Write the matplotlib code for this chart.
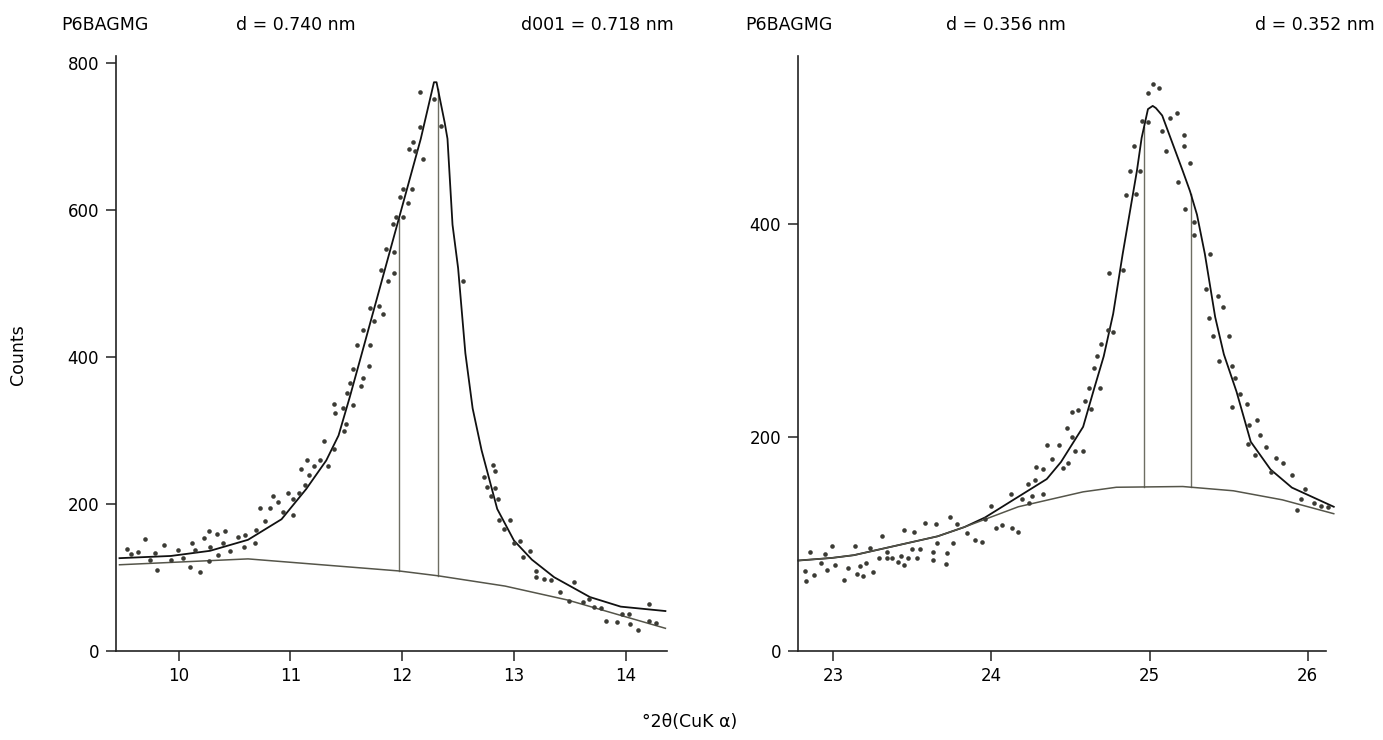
import numpy as np
import matplotlib
matplotlib.use("Agg")
import matplotlib.pyplot as plt

plt.rcParams['font.family'] = ['DejaVu Sans']

# ---------------- Left panel data (°2θ, counts) ----------------
left_x = [9.54, 9.57, 9.64, 9.70, 9.74, 9.79, 9.81, 9.87, 9.93, 9.99, 10.04, 10.10, 10.12, 10.15,
          10.19, 10.23, 10.27, 10.27, 10.28, 10.34, 10.35, 10.40, 10.41, 10.46, 10.53, 10.58, 10.59,
          10.68, 10.69, 10.73, 10.77, 10.82, 10.84, 10.89, 10.93, 10.98, 11.02, 11.02, 11.08, 11.09,
          11.13, 11.15, 11.17, 11.21, 11.26, 11.30, 11.34, 11.39, 11.39, 11.40, 11.47, 11.48, 11.50,
          11.51, 11.53, 11.56, 11.56, 11.597, 11.63, 11.645, 11.65, 11.70, 11.71, 11.716, 11.75,
          11.79, 11.81, 11.83, 11.853, 11.875, 11.92, 11.93, 11.93, 11.94, 11.978, 12.006, 12.01,
          12.054, 12.06, 12.086, 12.10, 12.115, 12.157, 12.163, 12.185, 12.284, 12.348, 12.54,
          12.73, 12.76, 12.79, 12.81, 12.83, 12.83, 12.86, 12.87, 12.91, 12.96, 13.00, 13.05, 13.08,
          13.14, 13.20, 13.20, 13.27, 13.33, 13.41, 13.49, 13.54, 13.62, 13.67, 13.72, 13.78, 13.82,
          13.92, 13.97, 14.03, 14.04, 14.11, 14.21, 14.21, 14.27]
left_y = [139, 131, 134, 152, 124, 133, 110, 144, 124, 137, 126, 114, 147, 137,
          107, 154, 163, 122, 141, 159, 130, 146, 163, 136, 155, 141, 157,
          146, 164, 194, 176, 194, 211, 202, 189, 215, 206, 185, 215, 247,
          226, 259, 239, 251, 260, 286, 251, 275, 336, 324, 330, 299, 309,
          351, 365, 335, 384, 416, 360, 436, 371, 388, 416, 467, 449,
          469, 518, 459, 547, 503, 581, 543, 514, 591, 618, 629, 591,
          609, 683, 629, 692, 681, 713, 761, 669, 751, 715, 503,
          236, 223, 210, 253, 245, 221, 207, 178, 166, 178, 146, 149, 128,
          136, 109, 100, 98, 96, 80, 68, 94, 66, 70, 60, 58, 41,
          39, 50, 50, 36, 28, 63, 41, 38]

left_fit_x = [9.47, 9.93, 10.28, 10.62, 10.92, 11.14, 11.32, 11.43, 11.53, 11.63, 12.166, 12.284,
              12.307, 12.38, 12.405, 12.45, 12.50, 12.565, 12.63, 12.71, 12.85, 13.00, 13.16, 13.36,
              13.68, 13.955, 14.355]
left_fit_y = [126, 129, 136, 151, 179, 220, 259, 293, 345, 400, 697, 774,
              774, 719, 697, 580, 521, 405, 330, 273, 193, 150, 124, 100,
              73, 60, 54]

left_bg_x = [9.47, 10.62, 11.97, 12.32, 12.92, 13.48, 14.355]
left_bg_y = [117, 125, 108.6, 102, 88, 69, 30.5]

left_peaks = [11.968, 12.32]

# ---------------- Right panel data ----------------
right_x = [22.824, 22.826, 22.853, 22.88, 22.92, 22.95, 22.96, 22.99, 23.01, 23.07, 23.09, 23.14,
           23.15, 23.17, 23.19, 23.21, 23.23, 23.25, 23.29, 23.31, 23.34, 23.34, 23.37, 23.41,
           23.43, 23.45, 23.45, 23.47, 23.50, 23.51, 23.53, 23.55, 23.58, 23.63, 23.63, 23.65,
           23.655, 23.71, 23.72, 23.74, 23.76, 23.78, 23.845, 23.895, 23.94, 23.96, 24.00, 24.03,
           24.07, 24.125, 24.13, 24.17, 24.195, 24.23, 24.24, 24.256, 24.276, 24.28, 24.326, 24.326,
           24.35, 24.38, 24.425, 24.45, 24.477, 24.486, 24.507, 24.507, 24.53, 24.547, 24.577, 24.59,
           24.617, 24.63, 24.65, 24.67, 24.687, 24.69, 24.737, 24.746, 24.77, 24.83, 24.85, 24.875,
           24.904, 24.915, 24.94, 24.95, 24.99, 24.99, 25.022, 25.058, 25.078, 25.107, 25.13, 25.173,
           25.178, 25.216, 25.218, 25.227, 25.254, 25.28, 25.28, 25.354, 25.374, 25.38, 25.40, 25.43,
           25.44, 25.462, 25.50, 25.52, 25.52, 25.54, 25.57, 25.616, 25.62, 25.63, 25.67, 25.68,
           25.70, 25.735, 25.767, 25.80, 25.846, 25.90, 25.93, 25.96, 25.984, 26.04, 26.086, 26.13]
right_y = [75, 65, 93, 71, 82, 91, 76, 98, 80, 66, 78, 98,
           72, 79, 70, 82, 96, 74, 87, 108, 93, 87, 87, 83,
           89, 113, 80, 87, 95, 111, 87, 95, 120, 93, 85, 119,
           101, 81, 92, 125, 101, 119, 110, 104, 102, 124, 136, 115,
           118, 147, 115, 111, 142, 156, 139, 145, 160, 172, 147, 170,
           193, 180, 193, 171, 209, 176, 200, 224, 187, 226, 187, 234,
           246, 227, 265, 276, 246, 288, 301, 354, 299, 357, 427, 450,
           473, 428, 450, 497, 523, 496, 532, 528, 487, 469, 500, 504,
           440, 484, 473, 414, 457, 402, 390, 339, 312, 372, 295, 333,
           272, 322, 295, 267, 229, 256, 241, 231, 194, 212, 184, 216,
           202, 191, 168, 181, 176, 165, 132, 142, 152, 139, 136, 135]

right_fit_x = [22.78, 22.99, 23.13, 23.66, 23.83, 23.96, 24.35, 24.44, 24.58, 24.65, 24.71, 24.77,
               24.83, 24.92, 24.95, 24.99, 25.02, 25.04, 25.08, 25.12, 25.21, 25.256, 25.30, 25.35,
               25.415, 25.47, 25.55, 25.64, 25.765, 25.90, 26.165]
right_fit_y = [84.6, 87, 89.6, 107.3, 116, 125, 161, 177, 210, 246, 276, 316,
               372, 450, 481, 508, 511, 509, 502, 486, 450, 431, 409, 372,
               313, 278, 243, 196, 170, 153, 135]

right_bg_x = [22.78, 22.99, 23.13, 23.66, 23.83, 24.17, 24.58, 24.79, 25.21, 25.53, 25.84, 26.165]
right_bg_y = [84.6, 87, 89.6, 107.3, 116, 135, 149, 153.3, 154, 150, 141.5, 128.5]

right_peaks = [24.965, 25.262]

left_titles = ["P6BAGMG", "d = 0.740 nm", "d001 = 0.718 nm"]
right_titles = ["P6BAGMG", "d = 0.356 nm", "d = 0.352 nm"]

# ---------------- Figure ----------------
W, H = 1383, 740
fig = plt.figure(figsize=(W / 100, H / 100), dpi=100)

def px_axes(x0, x1, ytop, ybot):
    return fig.add_axes([x0 / W, 1 - ybot / H, (x1 - x0) / W, (ybot - ytop) / H])

axL = px_axes(115.7, 667.3, 55.8, 650.7)
axR = px_axes(797.7, 1325.7, 55.8, 650.7)

dot_c = '#3b3b35'
fit_c = '#111111'
bg_c = '#55554a'
vl_c = '#6e6e62'

def draw(ax, sx, sy, fx, fy, bx, by, peaks, xlim, ylim, yticks, xticks):
    ax.plot(sx, sy, 'o', ms=3.3, color=dot_c, mec='none', clip_on=False, zorder=3)
    ax.plot(fx, fy, '-', lw=1.3, color=fit_c, clip_on=False, zorder=2)
    ax.plot(bx, by, '-', lw=1.1, color=bg_c, clip_on=False, zorder=2)
    for p in peaks:
        lo = np.interp(p, bx, by)
        hi = np.interp(p, fx, fy)
        ax.plot([p, p], [lo, hi], '-', lw=1.0, color=vl_c, zorder=1)
    ax.set_xlim(*xlim)
    ax.set_ylim(*ylim)
    ax.set_yticks(yticks)
    ax.set_xticks(xticks)
    for s in ['top', 'right']:
        ax.spines[s].set_visible(False)
    for s in ['left', 'bottom']:
        ax.spines[s].set_linewidth(1.2)
        ax.spines[s].set_color('#222222')
    ax.tick_params(direction='out', length=7, width=1.1, labelsize=12, color='#222222', pad=5)

draw(axL, left_x, left_y, left_fit_x, left_fit_y, left_bg_x, left_bg_y, left_peaks,
     (9.436, 14.372), (0, 810), [0, 200, 400, 600, 800], [10, 11, 12, 13, 14])
draw(axR, right_x, right_y, right_fit_x, right_fit_y, right_bg_x, right_bg_y, right_peaks,
     (22.775, 26.114), (0, 558), [0, 200, 400], [23, 24, 25, 26])

title_y = 1 - 25 / H
fs_t = 12.5
fig.text(61 / W, title_y, left_titles[0], fontsize=fs_t, va='center', ha='left')
fig.text(296 / W, title_y, left_titles[1], fontsize=fs_t, va='center', ha='center')
fig.text(674 / W, title_y, left_titles[2], fontsize=fs_t, va='center', ha='right')
fig.text(745 / W, title_y, right_titles[0], fontsize=fs_t, va='center', ha='left')
fig.text(1006 / W, title_y, right_titles[1], fontsize=fs_t, va='center', ha='center')
fig.text(1375 / W, title_y, right_titles[2], fontsize=fs_t, va='center', ha='right')

fig.text(18 / W, 1 - 355 / H, "Counts", rotation=90, fontsize=12.5, va='center', ha='center')
fig.text(690 / W, 1 - 722 / H, "°2θ(CuK α)", fontsize=12.5, va='center', ha='center')

fig.savefig("out.png", dpi=100)
